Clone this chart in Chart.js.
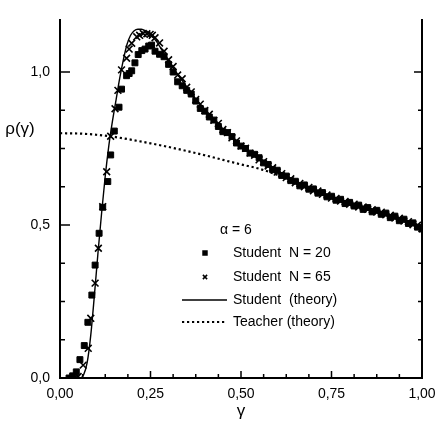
<!DOCTYPE html>
<html>
<head>
<meta charset="utf-8">
<script src="https://cdn.jsdelivr.net/npm/chart.js@4.4.1/dist/chart.umd.min.js"></script>
<style>
  html, body { margin: 0; padding: 0; background: #fff; }
</style>
</head>
<body>
<canvas id="chart" width="438" height="436"></canvas>
<script>
const FONT = "'Liberation Sans', Arial, sans-serif";

const alphaText = "α = 6";
const xTitle = "γ";
const yTitle = "ρ(γ)";

// labelled ticks
const xTickValues = [0, 0.25, 0.5, 0.75, 1.0];
const xTickLabels = ["0,00", "0,25", "0,50", "0,75", "1,00"];
const yTickValues = [0, 0.5, 1.0];
const yTickLabels = ["0,0", "0,5", "1,0"];

// student, N = 20 (squares)
const n20Gamma = [0.025, 0.035, 0.045, 0.055, 0.067, 0.077, 0.088, 0.097, 0.108, 0.118,
  0.132, 0.140, 0.150, 0.163, 0.170, 0.184, 0.191, 0.198, 0.207, 0.216,
  0.226, 0.235, 0.245, 0.253, 0.2625, 0.275, 0.2875, 0.30, 0.3125, 0.325,
  0.3375, 0.35, 0.3625, 0.375, 0.3875, 0.40, 0.4125, 0.425, 0.4375, 0.45,
  0.4625, 0.475, 0.4875, 0.50, 0.5125, 0.525, 0.5375, 0.55, 0.5625, 0.575,
  0.5875, 0.60, 0.6125, 0.625, 0.6375, 0.65, 0.6625, 0.675, 0.6875, 0.70,
  0.7125, 0.725, 0.7375, 0.75, 0.7625, 0.775, 0.7875, 0.80, 0.8125, 0.825,
  0.8375, 0.85, 0.8625, 0.875, 0.8875, 0.90, 0.9125, 0.925, 0.9375, 0.95,
  0.9625, 0.975, 0.9875, 1.00];
const n20Rho = [0.0, 0.007, 0.02, 0.06, 0.106, 0.182, 0.271, 0.369, 0.473, 0.558,
  0.642, 0.729, 0.807, 0.885, 0.944, 0.988, 0.995, 1.004, 1.03, 1.057,
  1.07, 1.075, 1.085, 1.088, 1.068, 1.058, 1.05, 1.025, 1.0, 0.968,
  0.955, 0.94, 0.928, 0.905, 0.881, 0.872, 0.853, 0.843, 0.822, 0.805,
  0.802, 0.789, 0.768, 0.758, 0.75, 0.735, 0.731, 0.72, 0.703, 0.698,
  0.681, 0.679, 0.662, 0.66, 0.645, 0.643, 0.628, 0.631, 0.617, 0.618,
  0.604, 0.606, 0.592, 0.594, 0.581, 0.584, 0.57, 0.574, 0.562, 0.565,
  0.551, 0.557, 0.543, 0.548, 0.535, 0.539, 0.524, 0.529, 0.514, 0.519,
  0.505, 0.507, 0.493, 0.487];

// student, N = 65 (crosses)
const n65Gamma = [0.04, 0.05, 0.064, 0.078, 0.085, 0.097, 0.106, 0.118, 0.129, 0.14,
  0.152, 0.16, 0.17, 0.184, 0.191, 0.198, 0.212, 0.22, 0.23, 0.24,
  0.249, 0.255, 0.2625, 0.275, 0.2875, 0.30, 0.3125, 0.325, 0.3375, 0.35,
  0.3625, 0.375, 0.3875, 0.40, 0.4125, 0.425, 0.4375, 0.45, 0.4625, 0.475,
  0.4875, 0.50, 0.5125, 0.525, 0.5375, 0.55, 0.5625, 0.575, 0.5875, 0.60,
  0.6125, 0.625, 0.6375, 0.65, 0.6625, 0.675, 0.6875, 0.70, 0.7125, 0.725,
  0.7375, 0.75, 0.7625, 0.775, 0.7875, 0.80, 0.8125, 0.825, 0.8375, 0.85,
  0.8625, 0.875, 0.8875, 0.90, 0.9125, 0.925, 0.9375, 0.95, 0.9625, 0.975,
  0.9875, 1.00];
const n65Rho = [0.0, 0.005, 0.042, 0.097, 0.195, 0.31, 0.424, 0.56, 0.674, 0.79,
  0.88, 0.94, 1.007, 1.045, 1.075, 1.094, 1.115, 1.12, 1.126, 1.125,
  1.123, 1.12, 1.112, 1.095, 1.068, 1.04, 1.018, 0.99, 0.978, 0.95,
  0.935, 0.91, 0.895, 0.874, 0.862, 0.842, 0.832, 0.812, 0.802, 0.785,
  0.775, 0.758, 0.751, 0.735, 0.728, 0.713, 0.707, 0.693, 0.687, 0.673,
  0.668, 0.655, 0.651, 0.638, 0.636, 0.625, 0.623, 0.612, 0.611, 0.6,
  0.598, 0.588, 0.587, 0.578, 0.577, 0.568, 0.568, 0.559, 0.559, 0.551,
  0.55, 0.542, 0.542, 0.533, 0.532, 0.523, 0.522, 0.513, 0.511, 0.501,
  0.499, 0.488];

// theory curves
const studentGamma = [0.05, 0.055, 0.065, 0.075, 0.085, 0.095, 0.105, 0.115, 0.125, 0.135,
  0.145, 0.155, 0.165, 0.175, 0.185, 0.195, 0.205, 0.215, 0.225, 0.235,
  0.245, 0.26, 0.28, 0.30, 0.33, 0.36, 0.39, 0.42, 0.45, 0.50,
  0.55, 0.60, 0.65, 0.70, 0.75, 0.80, 0.85, 0.90, 0.95, 1.00];
const studentTheory = [0.0, 0.0, 0.01, 0.05, 0.14, 0.27, 0.41, 0.54, 0.66, 0.76,
  0.84, 0.91, 0.98, 1.04, 1.09, 1.12, 1.135, 1.14, 1.14, 1.135,
  1.125, 1.11, 1.075, 1.035, 0.985, 0.935, 0.89, 0.85, 0.815, 0.76,
  0.715, 0.675, 0.64, 0.615, 0.59, 0.57, 0.553, 0.535, 0.515, 0.49];

const teacherGamma = [0, 0.05, 0.1, 0.15, 0.2, 0.25, 0.3, 0.35, 0.4, 0.45,
  0.5, 0.55, 0.6, 0.65, 0.7, 0.75, 0.8, 0.85, 0.9, 0.95, 1.0];
const teacherTheory = [0.80, 0.799, 0.795, 0.788, 0.778, 0.767, 0.755, 0.742, 0.728, 0.713,
  0.698, 0.684, 0.664, 0.638, 0.612, 0.588, 0.568, 0.551, 0.533, 0.513, 0.489];

const pts = (xs, ys) => xs.map((x, i) => ({ x: x, y: ys[i] }));
const near = (v, list) => list.findIndex(m => Math.abs(m - v) < 1e-6);

// inward ticks, y title and the frameless legend
const paperFrame = {
  id: "paperFrame",
  afterDraw(chart) {
    const { ctx, chartArea: a, scales: { x, y } } = chart;
    ctx.save();
    ctx.strokeStyle = "#000";
    ctx.lineWidth = 1.5;
    ctx.beginPath();
    x.ticks.forEach(t => {
      const px = x.getPixelForValue(t.value);
      const len = near(t.value, xTickValues) >= 0 ? 7 : 4;
      ctx.moveTo(px, a.bottom);
      ctx.lineTo(px, a.bottom - len);
    });
    y.ticks.forEach(t => {
      const py = y.getPixelForValue(t.value);
      const major = near(t.value, yTickValues) >= 0;
      ctx.moveTo(a.left, py);
      ctx.lineTo(a.left + (major ? 10 : 5), py);
      ctx.moveTo(a.right, py);
      ctx.lineTo(a.right - (major ? 8 : 4), py);
    });
    ctx.stroke();

    ctx.fillStyle = "#000";
    ctx.textBaseline = "middle";
    ctx.textAlign = "center";
    ctx.font = "17px " + FONT;
    ctx.fillText(yTitle, 20, a.top + 109);

    ctx.textAlign = "left";
    ctx.font = "14px " + FONT;
    ctx.fillText(alphaText, 220, 230);

    const rows = [
      { ds: 2, y: 253 },
      { ds: 3, y: 277 },
      { ds: 0, y: 300 },
      { ds: 1, y: 322 }
    ];
    rows.forEach(r => {
      const ds = chart.data.datasets[r.ds];
      if (ds.showLine) {
        ctx.save();
        ctx.lineWidth = ds.borderWidth;
        ctx.setLineDash(ds.borderDash || []);
        ctx.beginPath();
        ctx.moveTo(182, r.y);
        ctx.lineTo(227, r.y);
        ctx.stroke();
        ctx.restore();
      } else {
        Chart.helpers.drawPoint(ctx, {
          pointStyle: ds.pointStyle,
          radius: ds.pointStyle === "rect" ? 2.8 : 3,
          borderWidth: 1.3,
          rotation: 0
        }, 205, r.y);
        if (ds.pointStyle === "rect") ctx.fill();
      }
      ctx.fillText(ds.label, 233, r.y);
    });
    ctx.restore();
  }
};

const axisFont = { family: FONT, size: 14 };

new Chart(document.getElementById("chart"), {
  type: "scatter",
  data: {
    datasets: [
      {
        label: "Student  (theory)",
        data: pts(studentGamma, studentTheory),
        showLine: true,
        borderColor: "#000",
        borderWidth: 1.4,
        pointRadius: 0,
        cubicInterpolationMode: "monotone"
      },
      {
        label: "Teacher (theory)",
        data: pts(teacherGamma, teacherTheory),
        showLine: true,
        borderColor: "#000",
        borderWidth: 2.2,
        borderDash: [2.2, 2.8],
        pointRadius: 0,
        cubicInterpolationMode: "monotone"
      },
      {
        label: "Student  N = 20",
        data: pts(n20Gamma, n20Rho),
        pointStyle: "rect",
        pointRadius: 4.2,
        backgroundColor: "#000",
        borderColor: "#000",
        borderWidth: 1
      },
      {
        label: "Student  N = 65",
        data: pts(n65Gamma, n65Rho),
        pointStyle: "crossRot",
        pointRadius: 4.8,
        borderColor: "#000",
        borderWidth: 1.6
      }
    ]
  },
  options: {
    responsive: false,
    animation: false,
    layout: { padding: { top: 20, left: 0, right: 0, bottom: 0 } },
    plugins: { legend: { display: false }, tooltip: { enabled: false } },
    scales: {
      x: {
        type: "linear",
        min: 0,
        max: 1,
        ticks: {
          stepSize: 0.0625,
          autoSkip: false,
          maxRotation: 0,
          padding: 8,
          color: "#000",
          font: axisFont,
          callback: v => {
            const i = near(v, xTickValues);
            return i >= 0 ? xTickLabels[i] : "";
          }
        },
        grid: { display: false, drawTicks: false },
        border: { display: true, color: "#000", width: 2 },
        title: {
          display: true,
          text: xTitle,
          color: "#000",
          font: { family: FONT, size: 17 },
          padding: { top: 0, bottom: 14 }
        },
        afterFit: s => {
          s.height = 58;
          s.paddingLeft = 0;
          s.paddingRight = 0;
        }
      },
      y: {
        type: "linear",
        min: 0,
        max: 1.17,
        afterBuildTicks: s => {
          s.ticks = s.ticks.filter(t => Math.abs(t.value / 0.125 - Math.round(t.value / 0.125)) < 1e-6);
        },
        ticks: {
          stepSize: 0.125,
          autoSkip: false,
          padding: 10,
          color: "#000",
          font: axisFont,
          callback: v => {
            const i = near(v, yTickValues);
            return i >= 0 ? yTickLabels[i] : "";
          }
        },
        grid: { display: false, drawTicks: false },
        border: { display: true, color: "#000", width: 2 },
        afterFit: s => { s.width = 60; }
      },
      y2: {
        type: "linear",
        position: "right",
        min: 0,
        max: 1.17,
        ticks: { display: false },
        grid: { display: false, drawTicks: false },
        border: { display: true, color: "#000", width: 2 },
        afterFit: s => { s.width = 16; }
      }
    }
  },
  plugins: [paperFrame]
});
</script>
</body>
</html>
